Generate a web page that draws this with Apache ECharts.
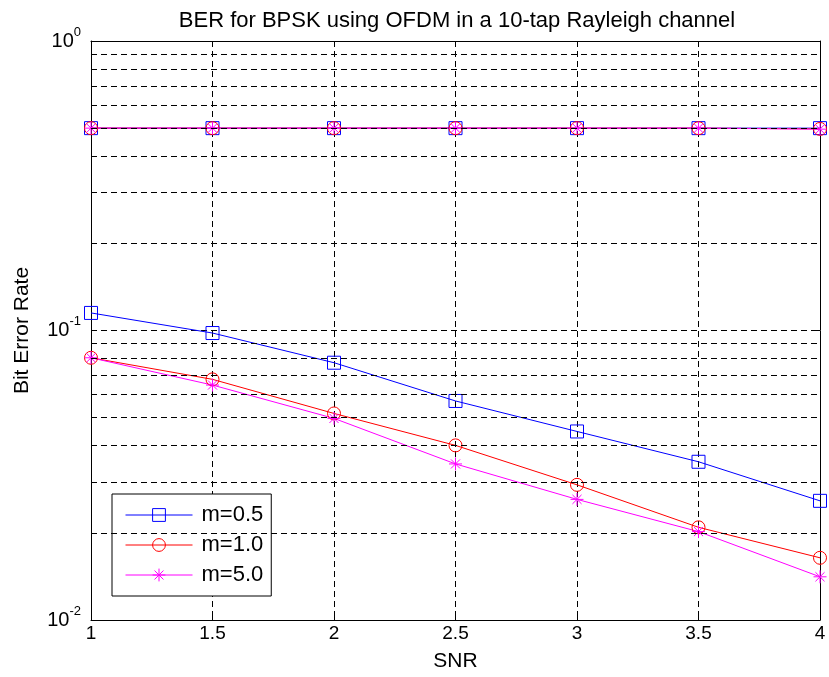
<!DOCTYPE html>
<html>
<head>
<meta charset="utf-8">
<script src="https://cdn.jsdelivr.net/npm/echarts@6/dist/echarts.min.js"></script>
<style>
html, body { margin: 0; padding: 0; background: #fff; }
#chart { width: 829px; height: 677px; }
</style>
</head>
<body>
<div id="chart"></div>
<script>
// data
const snr = [1, 1.5, 2, 2.5, 3, 3.5, 4];
const berM05 = [0.115, 0.098, 0.0774, 0.0571, 0.0448, 0.0352, 0.0258];
const berM10 = [0.0805, 0.0678, 0.0517, 0.0401, 0.0293, 0.0209, 0.0164];
const berM50 = [0.0805, 0.0648, 0.0497, 0.0346, 0.0261, 0.0202, 0.0141];
const flatM05 = [0.5, 0.5, 0.5, 0.5, 0.5, 0.5, 0.5];
const flatM10 = [0.5, 0.5, 0.5, 0.5, 0.5, 0.5, 0.497];
const flatM50 = [0.5, 0.5, 0.5, 0.5, 0.5, 0.5, 0.496];
const seriesNames = ['m=0.5', 'm=1.0', 'm=5.0'];
// minor log grid values (dashed lines inside each decade)
const minorGrid = [0.02, 0.03, 0.04, 0.05, 0.06, 0.07, 0.08, 0.09,
                   0.2, 0.3, 0.4, 0.5, 0.6, 0.7, 0.8, 0.9];

const FONT = 'Liberation Sans, Arial, Helvetica, sans-serif';
const DASH = [6, 4];
const starPath = 'path://M5,0 L5,10 M0,5 L10,5 M1.5,1.5 L8.5,8.5 M1.5,8.5 L8.5,1.5';

function makeLine(name, values, color, symbol, size) {
    return {
        name: name,
        type: 'line',
        z: 3,
        data: snr.map((x, i) => [x, values[i]]),
        symbol: symbol,
        symbolSize: size,
        showAllSymbol: true,
        lineStyle: { color: color, width: 1 },
        itemStyle: { color: 'rgba(0,0,0,0)', borderColor: color, borderWidth: 1 },
        emphasis: { disabled: true }
    };
}

const chart = echarts.init(document.getElementById('chart'));
const option = {
    animation: false,
    backgroundColor: '#fff',
    textStyle: { fontFamily: FONT },
    title: {
        text: 'BER for BPSK using OFDM in a 10-tap Rayleigh channel',
        left: 452,
        top: 5,
        textAlign: 'center',
        textStyle: { fontSize: 22, fontWeight: 'normal', color: '#000', fontFamily: FONT }
    },
    grid: { left: 91, right: 9, top: 41, bottom: 56 },
    legend: {
        data: seriesNames,
        orient: 'vertical',
        left: 112,
        top: 494,
        padding: [10, 8, 10, 13],
        itemWidth: 67,
        itemHeight: 16,
        itemGap: 8,
        borderColor: '#000',
        borderWidth: 1,
        borderRadius: 0,
        backgroundColor: '#fff',
        selectedMode: false,
        itemStyle: { borderWidth: 1 },
        lineStyle: { width: 1 },
        textStyle: { fontSize: 22, color: '#000', fontFamily: FONT, padding: [0, 0, 0, 4] }
    },
    xAxis: [{
        type: 'value',
        min: 1,
        max: 4,
        interval: 0.5,
        position: 'bottom',
        name: 'SNR',
        nameLocation: 'middle',
        nameGap: 31,
        nameTextStyle: { fontSize: 21, color: '#000', fontFamily: FONT },
        axisLine: { show: true, lineStyle: { color: '#000', width: 1 } },
        axisTick: { show: true, inside: true, length: 6, lineStyle: { color: '#000' } },
        axisLabel: { fontSize: 19, color: '#000', margin: 4, fontFamily: FONT },
        splitLine: { show: true, lineStyle: { color: '#000', type: DASH, width: 1 } }
    }, {
        type: 'value',
        min: 1,
        max: 4,
        interval: 0.5,
        position: 'top',
        axisLine: { show: true, lineStyle: { color: '#000', width: 1 } },
        axisTick: { show: true, inside: true, length: 6, lineStyle: { color: '#000' } },
        axisLabel: { show: false },
        splitLine: { show: false }
    }],
    yAxis: [{
        type: 'log',
        logBase: 10,
        min: 0.01,
        max: 1,
        position: 'left',
        name: 'Bit Error Rate',
        nameLocation: 'middle',
        nameGap: 58,
        nameTextStyle: { fontSize: 21, color: '#000', fontFamily: FONT },
        axisLine: { show: true, lineStyle: { color: '#000', width: 1 } },
        axisTick: { show: true, inside: true, length: 6, lineStyle: { color: '#000' } },
        axisLabel: {
            margin: 10,
            color: '#000',
            formatter: v => '{b|10}{s|' + Math.round(Math.log10(v)) + '}',
            rich: {
                b: { fontSize: 20, lineHeight: 20, color: '#000', fontFamily: FONT },
                s: { fontSize: 13, color: '#000', fontFamily: FONT, padding: [0, 0, 18, 0] }
            }
        },
        splitLine: { show: true, lineStyle: { color: '#000', type: DASH, width: 1 } }
    }, {
        type: 'log',
        logBase: 10,
        min: 0.01,
        max: 1,
        position: 'right',
        axisLine: { show: true, lineStyle: { color: '#000', width: 1 } },
        axisTick: { show: true, inside: true, length: 6, lineStyle: { color: '#000' } },
        axisLabel: { show: false },
        splitLine: { show: false }
    }],
    series: [
        {
            name: 'grid',
            type: 'line',
            z: 1,
            data: [],
            silent: true,
            markLine: {
                silent: true,
                symbol: ['none', 'none'],
                label: { show: false },
                lineStyle: { color: '#000', type: DASH, width: 1 },
                emphasis: { disabled: true },
                data: minorGrid.map(v => ({ yAxis: v }))
            }
        },
        makeLine(seriesNames[0], flatM05, '#0000ff', 'rect', 13),
        makeLine(seriesNames[1], flatM10, '#ff0000', 'circle', 13),
        makeLine(seriesNames[2], flatM50, '#ff00ff', starPath, 13),
        makeLine(seriesNames[0], berM05, '#0000ff', 'rect', 13),
        makeLine(seriesNames[1], berM10, '#ff0000', 'circle', 13),
        makeLine(seriesNames[2], berM50, '#ff00ff', starPath, 13)
    ]
};
chart.setOption(option);
</script>
</body>
</html>
